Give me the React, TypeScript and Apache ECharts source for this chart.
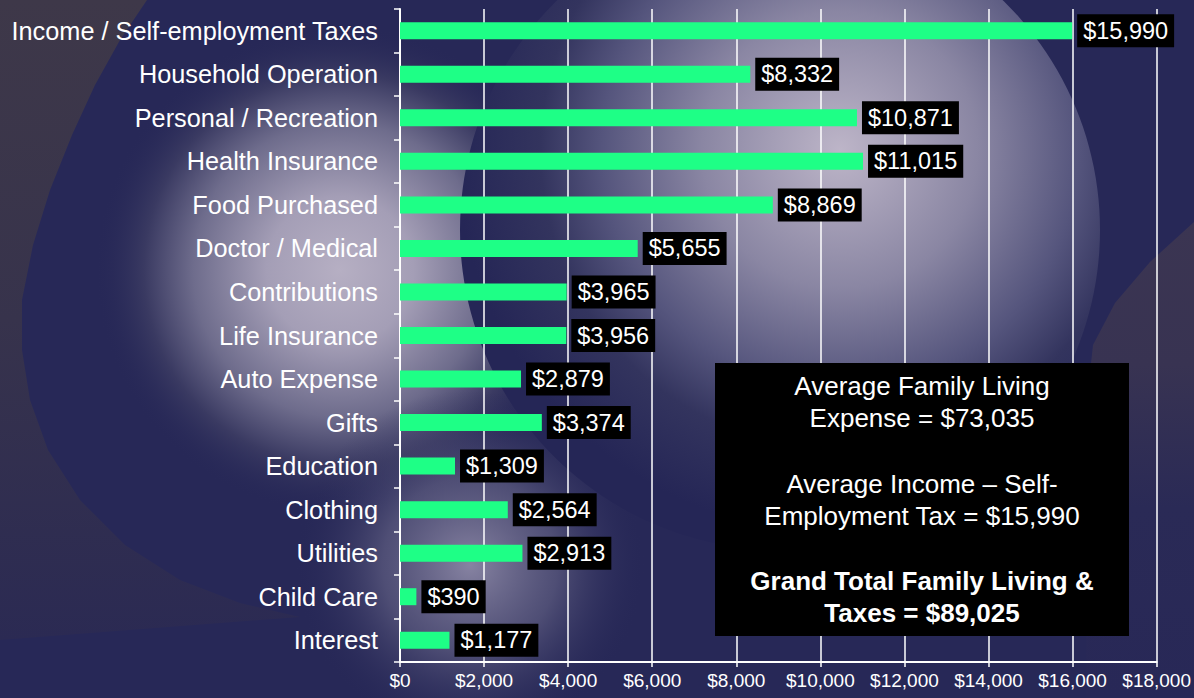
import React, { useEffect, useRef } from "react";
import * as echarts from "echarts";

const categories = [
  "Income / Self-employment Taxes",
  "Household Operation",
  "Personal / Recreation",
  "Health Insurance",
  "Food Purchased",
  "Doctor / Medical",
  "Contributions",
  "Life Insurance",
  "Auto Expense",
  "Gifts",
  "Education",
  "Clothing",
  "Utilities",
  "Child Care",
  "Interest",
];
const values = [15990, 8332, 10871, 11015, 8869, 5655, 3965, 3956, 2879, 3374, 1309, 2564, 2913, 390, 1177];

const xMin = 0;
const xMax = 18000;
const xStep = 2000;

const summaryParagraphs = [
  { lines: ["Average Family Living", "Expense = $73,035"], bold: false },
  { lines: ["Average Income \u2013 Self-", "Employment Tax = $15,990"], bold: false },
  { lines: ["Grand Total Family Living &", "Taxes = $89,025"], bold: true },
];

const money = (v: number) => "$" + v.toLocaleString("en-US");

const SANS = "'Liberation Sans', Arial, Helvetica, sans-serif";

function glow(cx: number, cy: number, r: number, stops: [number, string][], z = -19, gx = cx, gy = cy, gr = r) {
  return {
    type: "circle", z, silent: true,
    shape: { cx, cy, r },
    style: {
      fill: {
        type: "radial", x: gx, y: gy, r: gr, global: true,
        colorStops: stops.map(([offset, color]) => ({ offset, color })),
      },
    },
  };
}

export default function App() {
  const ref = useRef<HTMLDivElement>(null);
  useEffect(() => {
    if (!ref.current) return;
    const chart = echarts.init(ref.current, null, { renderer: "svg" });

    const navy = "#272857";

    const topLeftGrey = [
      [0, 0], [147, 0], [120, 40], [95, 85], [72, 135], [50, 190], [33, 245], [22, 300],
      [22, 350], [30, 400], [48, 450], [80, 500], [125, 545], [180, 580], [240, 603], [300, 617],
      [0, 640],
    ];
    const bottomRightGrey = [
      [1194, 222], [1150, 262], [1115, 303], [1093, 345], [1087, 400], [1086, 698], [1194, 698],
    ];

    const bg: any[] = [
      { type: "rect", z: -20, shape: { x: 0, y: 0, width: 1194, height: 698 }, style: { fill: navy }, silent: true },
      glow(340, 270, 245, [
        [0, "#b6afc3"],
        [0.3, "#a49eb6"],
        [0.6, "#6e6c8c"],
        [0.8, "#3a3a62"],
        [1, "rgba(39,40,87,0)"],
      ]),
      glow(470, 565, 175, [
        [0, "rgba(140,136,166,0.95)"],
        [0.5, "rgba(105,103,137,0.6)"],
        [1, "rgba(39,40,87,0)"],
      ]),
      glow(780, 230, 320, [
        [0, "#bdb5c8"],
        [0.36, "#8a86a3"],
        [0.62, "#55557d"],
        [0.78, "#33345e"],
        [1, "#252656"],
      ], -18, 840, 150, 384),
      {
        type: "polygon", z: -17, silent: true,
        shape: { points: topLeftGrey },
        style: {
          fill: {
            type: "linear", x: 0, y: 0, x2: 0, y2: 1,
            colorStops: [
              { offset: 0, color: "#3e3849" },
              { offset: 0.5, color: "#37334c" },
              { offset: 1, color: "#2b2a53" },
            ],
          },
        },
      },
      {
        type: "polygon", z: -17, silent: true,
        shape: { points: bottomRightGrey },
        style: {
          fill: {
            type: "linear", x: 0, y: 0, x2: 0, y2: 1,
            colorStops: [
              { offset: 0, color: "#3b3552" },
              { offset: 0.3, color: "#383352" },
              { offset: 0.6, color: "#2a2a56" },
              { offset: 1, color: "#282857" },
            ],
          },
        },
      },
    ];

    const boxX = 715, boxY = 363, boxW = 414, boxH = 273;
    const paraCenters = [402, 500, 597];
    const box: any[] = [
      { type: "rect", z: 50, shape: { x: boxX, y: boxY, width: boxW, height: boxH }, style: { fill: "#000" } },
      ...summaryParagraphs.map((p, i) => ({
        type: "text", z: 51,
        x: boxX + boxW / 2, y: paraCenters[i],
        style: {
          text: p.lines.join("\n"),
          fill: "#fff",
          fontSize: 26,
          fontWeight: p.bold ? "bold" : "normal",
          fontFamily: SANS,
          lineHeight: 32,
          align: "center",
          verticalAlign: "middle",
        },
      })),
    ];

    chart.setOption({
      animation: false,
      backgroundColor: "transparent",
      graphic: { elements: [...bg, ...box] },
      grid: { left: 400, right: 37, top: 9, bottom: 36, containLabel: false },
      xAxis: {
        type: "value",
        min: xMin, max: xMax, interval: xStep,
        axisLine: { show: true, lineStyle: { color: "#fff", width: 2 } },
        axisTick: { show: true, length: 5, lineStyle: { color: "#fff", width: 1.5 } },
        axisLabel: {
          color: "#fff", fontSize: 19, fontFamily: SANS, margin: 9,
          formatter: (v: number) => money(v),
        },
        splitLine: { show: true, lineStyle: { color: "#fff", width: 1.5 } },
      },
      yAxis: {
        type: "category",
        inverse: true,
        data: categories,
        axisLine: { show: true, lineStyle: { color: "#fff", width: 2 } },
        axisTick: { show: true, length: 6, lineStyle: { color: "#fff", width: 1.5 } },
        axisLabel: { color: "#fff", fontSize: 25.3, fontFamily: SANS, margin: 22 },
        splitLine: { show: false },
      },
      series: [
        {
          type: "bar",
          data: values,
          barWidth: 17,
          itemStyle: { color: "#1eff86" },
          label: {
            show: true,
            position: "right",
            distance: 5,
            color: "#fff",
            fontSize: 23.5,
            fontFamily: SANS,
            backgroundColor: "#000",
            padding: [5, 6, 4, 6],
            formatter: (p: any) => money(p.value),
          },
        },
      ],
    });
    return () => chart.dispose();
  }, []);
  return (
    <div
      ref={ref}
      style={{ position: "absolute", left: 0, top: 0, width: 1194, height: 698 }}
    />
  );
}
